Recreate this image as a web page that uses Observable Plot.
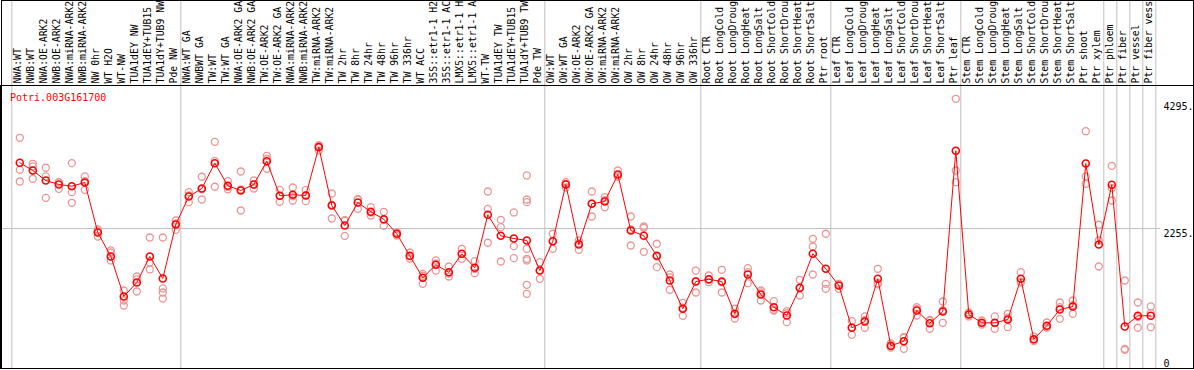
<!DOCTYPE html>
<html>
<head>
<meta charset="utf-8">
<script src="https://cdn.jsdelivr.net/npm/d3@7"></script>
<script src="https://cdn.jsdelivr.net/npm/@observablehq/plot@0.6"></script>
<style>
  html, body { margin: 0; padding: 0; background: white; }
</style>
</head>
<body>
<div id="chart"></div>
<script>
const geneId = "Potri.003G161700";

const categories = [
  "NWA:WT","NWB:WT","NWA:OE-ARK2","NWB:OE-ARK2","NWA:miRNA-ARK2","NWB:miRNA-ARK2","NW 0hr","WT H2O","WT-NW","TUA1dEY NW","TUA1dEY+TUB15","TUA1dY+TUB9 NW","Pde NW",
  "NWA:WT GA","NWBWT GA","TW:WT","TW:WT GA","NWA:OE-ARK2 GA","NWB:OE-ARK2 GA","TW:OE-ARK2","TW:OE-ARK2 GA","NWA:miRNA-ARK2","NWB:miRNA-ARK2","TW:miRNA-ARK2","TW:miRNA-ARK2","TW 2hr","TW 8hr","TW 24hr","TW 48hr","TW 96hr","TW 336hr","WT ACC","35S::etr1-1 H2","35S::etr1-1 AC","LMX5::etr1-1 H","LMX5::etr1-1 A","WT-TW","TUA1dEY TW","TUA1dEY+TUB15","TUA1dY+TUB9 TW","Pde TW",
  "OW:WT","OW:WT GA","OW:OE-ARK2","OW:OE-ARK2 GA","OW:miRNA-ARK2","OW:miRNA-ARK2","OW 2hr","OW 8hr","OW 24hr","OW 48hr","OW 96hr","OW 336hr",
  "Root CTR","Root LongCold","Root LongDroug","Root LongHeat","Root LongSalt","Root ShortCold","Root ShortDrou","Root ShortHeat","Root ShortSalt","Ptr root",
  "Leaf CTR","Leaf LongCold","Leaf LongDroug","Leaf LongHeat","Leaf LongSalt","Leaf ShortCold","Leaf ShortDrou","Leaf ShortHeat","Leaf ShortSalt","Ptr leaf",
  "Stem CTR","Stem LongCold","Stem LongDroug","Stem LongHeat","Stem LongSalt","Stem ShortCold","Stem ShortDrou","Stem ShortHeat","Stem ShortSalt","Ptr shoot","Ptr xylem",
  "Ptr phloem","Ptr fiber","Ptr vessel","Ptr fiber vess"
];

const means = [
  3313,3189,3028,2964,2936,2996,2191,1804,1160,1385,
  1804,1450,2319,2770,2899,3307,2943,2867,2964,3339,
  2782,2798,2787,3565,2625,2303,2674,2524,2405,2170,
  1815,1461,1670,1551,1847,1622,2476,2137,2094,2062,
  1578,2050,2964,1997,2653,2690,3125,2223,2137,1815,
  1417,962,1401,1438,1401,881,1514,1192,987,854,
  1300,1847,1606,1337,656,757,1445,366,440,934,
  730,918,3507,870,736,736,789,1445,472,688,
  950,999,3302,1997,2959,677,849,849
];

const replicates = [
  [3716,3200,3012],[3297,3254,3056],[3233,3093,2749],[3001,2894,2997],[3307,2840,2669],
  [3093,2878,3017],[2239,2126,2208],[1901,1868,1740],[1256,1095,1015],[1482,1434,1240],
  [2110,1707,1595],[2110,1289,1224,1127],[2384,2234,2339],[2840,2679,2790],[3088,2722,2887],
  [3651,2927,3343],[3017,2888,2924],[3173,2545,2883],[3028,2899,2965],[3426,3217,3374],
  [2878,2685,2783],[2915,2706,2773],[2878,2695,2788],[3592,3511,3592],[2819,2416,2640],
  [2384,2137,2388],[2722,2572,2728],[2598,2464,2510],[2524,2298,2393],[2195,2142,2173],
  [1868,1772,1805],[1525,1364,1494],[1740,1578,1692],[1643,1482,1528],[1928,1767,1846],
  [1728,1535,1603],[2851,2572,2025],[2395,2276,1723],[2513,1970,1777],
  [3109,2722,2679,1928,1767,1740,1348,1203],
  [1712,1445,1577],[2170,1928,2052],[3001,2915,2976],[2062,1912,2017],[2851,2448,2660],
  [2759,2598,2713],[3189,3093,3093],[2448,1981,2240],[2287,2266,1880],[2009,1632,1804],
  [1514,1268,1469],[1058,849,979],[1578,1224,1401],[1498,1390,1426],[1590,1224,1389],
  [962,805,876],[1616,1374,1552],[1256,1095,1225],[1084,945,932],[923,746,893],
  [1429,1176,1295],[2089,1965,1514],[2170,1364,1284],[1364,1284,1363],[762,543,663],
  [838,656,777],[1606,1374,1355],[403,338,357],[504,317,499],[987,854,961],
  [784,639,767],[1079,736,939],[4344,3189,3001],[902,838,870],[773,709,726],
  [838,639,731],[881,665,821],[1551,1400,1384],[515,440,461],[741,660,663],
  [1063,800,987],[1095,881,1021],[3822,3093,2975],[2315,2062,1643],[3265,2706,2906],
  [1417,317,301],[1063,656,828],[999,891,665]
];

const yTicks = [0, 2255, 4295];
const yTickLabels = ["0", "2255.", "4295."];
const groupStarts = [0, 13, 41, 53, 63, 73, 84, 85, 86, 87, 88];

const meanData = means.map((v, i) => ({i, v}));
const repData = replicates.flatMap((arr, i) => arr.map(v => ({i, v})));
const tickData = yTicks.map((v, k) => ({v, label: yTickLabels[k]}));

const W = 1194, H = 370, step = 13, x0 = 19.3;

const chart = Plot.plot({
  width: W,
  height: H,
  marginTop: 86,
  marginBottom: 2,
  marginLeft: 0,
  marginRight: 0,
  x: {type: "linear", domain: [-x0 / step, (W - x0) / step], axis: null},
  y: {domain: [0, 4542], axis: null},
  style: {fontFamily: "DejaVu Sans Mono", fontSize: "10px", background: "white", color: "black"},
  marks: [
    Plot.ruleX(groupStarts, {x: d => d - 0.5, dx: -1.5, stroke: "#c0c0c0", strokeOpacity: 1, insetTop: -86}),
    Plot.ruleY([2255], {stroke: "#c0c0c0", strokeOpacity: 1, insetRight: 34}),
    Plot.frame({stroke: "black", insetTop: -86, insetLeft: 1, insetRight: 1}),
    Plot.frame({stroke: "black", insetTop: -1}),
    Plot.dot(repData, {x: "i", y: "v", r: 3.5, stroke: "#eb9696", strokeWidth: 1.3, fill: "none"}),
    Plot.line(meanData, {x: "i", y: "v", stroke: "red", strokeWidth: 1}),
    Plot.dot(meanData, {x: "i", y: "v", r: 3.5, stroke: "red", strokeWidth: 1.6, fill: "none"}),
    Plot.text(categories, {
      x: (d, i) => i, text: d => d, frameAnchor: "top",
      rotate: -90, textAnchor: "start", lineAnchor: "bottom",
      dx: 1.2, dy: -3, fill: "black", fontSize: 9.8
    }),
    Plot.text([geneId], {
      frameAnchor: "top-left", text: d => d, textAnchor: "start", lineAnchor: "bottom",
      dx: 9.5, dy: 14, fill: "red", fontSize: 10
    }),
    Plot.text(tickData.filter(d => d.v > 0), {
      y: "v", text: "label", frameAnchor: "right", textAnchor: "start", lineAnchor: "top",
      dx: -31, dy: 1, fill: "black", fontSize: 10
    }),
    Plot.text(tickData.filter(d => d.v === 0), {
      y: "v", text: "label", frameAnchor: "right", textAnchor: "start", lineAnchor: "bottom",
      dx: -31, dy: -2, fill: "black", fontSize: 10
    })
  ]
});

document.getElementById("chart").appendChild(chart);
</script>
</body>
</html>
